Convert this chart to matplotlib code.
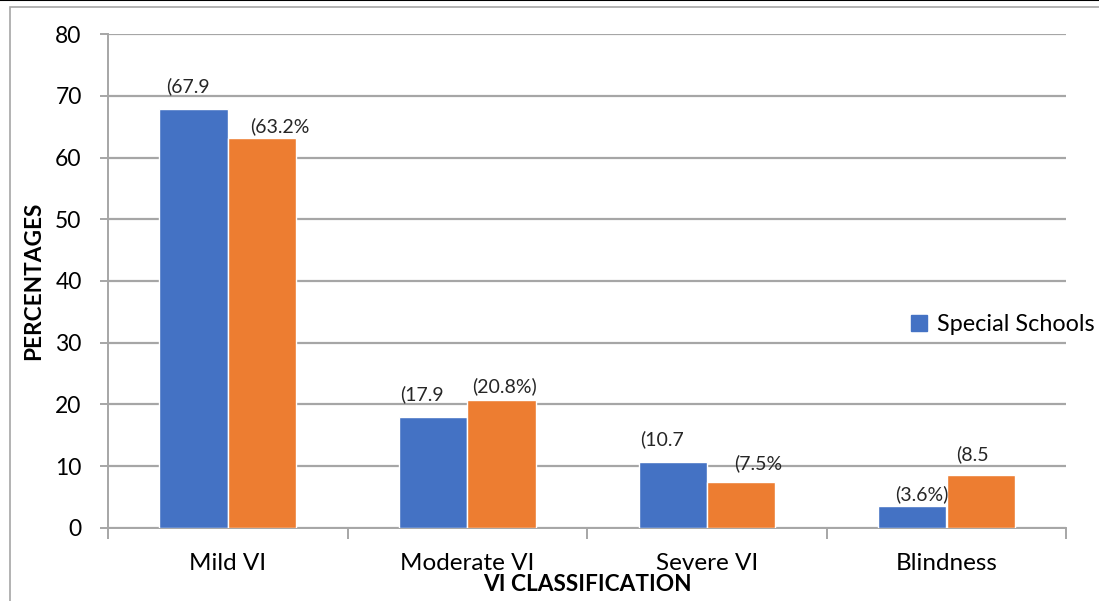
import numpy as np
import matplotlib.pyplot as plt
from matplotlib.patches import Patch, Rectangle
from matplotlib.lines import Line2D

plt.rcParams['font.family'] = ['Lato', 'DejaVu Sans']

### Data
categories = ['Mild VI', 'Moderate VI', 'Severe VI', 'Blindness']
special = [67.9, 17.9, 10.7, 3.6]
mainstream = [63.2, 20.8, 7.5, 8.5]
special_labels = ['(67.9', '(17.9', '(10.7', '(3.6%)']
mainstream_labels = ['(63.2%', '(20.8%)', '(7.5%', '(8.5']

### Label nudges in points (dx, dy) from the bar top
special_nudge = [(-4, 10), (-8, 10), (-8, 10), (7, 2)]
mainstream_nudge = [(13, 2), (2, 3), (12, 7), (-6, 9)]

blue = '#4472c4'
orange = '#ed7d31'
grid_col = '#a6a6a6'

fig = plt.figure(figsize=(10.99, 6.01), dpi=100)
ax = fig.add_axes([0.0983, 0.1215, 0.8719, 0.8219])

x = np.arange(len(categories))
w = 0.285
off = 0.143
b1 = ax.bar(x - off, special, w, color=blue, edgecolor='white', linewidth=1, zorder=3)
b2 = ax.bar(x + off, mainstream, w, color=orange, edgecolor='white', linewidth=1, zorder=3)

### Data labels
for bars, labs, nudge in ((b1, special_labels, special_nudge), (b2, mainstream_labels, mainstream_nudge)):
    for r, lab, (dx, dy) in zip(bars, labs, nudge):
        ax.annotate(lab, (r.get_x() + r.get_width() / 2, r.get_height()),
                    xytext=(dx, dy), textcoords='offset points',
                    ha='center', va='bottom', fontsize=14, color='#262626', zorder=4)

### Axes styling
ax.set_xlim(-0.5, len(categories) - 0.5)
ax.set_ylim(0, 80)
ax.set_yticks(np.arange(0, 81, 10))
ax.yaxis.grid(True, color=grid_col, linewidth=1.6, zorder=0)
ax.set_axisbelow(True)
for s in ('top', 'right'):
    ax.spines[s].set_visible(False)
for s in ('left', 'bottom'):
    ax.spines[s].set_color(grid_col)
    ax.spines[s].set_linewidth(1.4)

ax.set_xticks(x)
ax.set_xticklabels(categories)
ax.set_xticks(np.arange(-0.5, len(categories), 1), minor=True)
ax.tick_params(axis='x', which='major', length=0, labelsize=17.5, pad=18)
ax.tick_params(axis='x', which='minor', length=8, width=1.4, color=grid_col)
ax.tick_params(axis='y', length=6, width=1.4, color=grid_col, labelsize=16.5, pad=13)

ax.set_ylabel('PERCENTAGES', fontsize=16.3, fontweight='bold', labelpad=8)
ax.set_xlabel('VI CLASSIFICATION', fontsize=16.3, fontweight='bold', labelpad=0)

### Legend (only the first series entry)
ax.legend(handles=[Patch(color=blue)], labels=['Special Schools'],
          loc='center left', bbox_to_anchor=(0.838, 0.411), frameon=False,
          handlelength=0.7, handleheight=0.7, handletextpad=0.4,
          borderpad=0, borderaxespad=0, fontsize=16.8)

### Outer frame
fig.add_artist(Rectangle((10 / 1099, -0.05), 1.1, 1 - 7 / 601 + 0.05,
                         transform=fig.transFigure, fill=False,
                         edgecolor=grid_col, linewidth=1.2))
fig.add_artist(Line2D([0, 1], [0.9995, 0.9995], transform=fig.transFigure,
                      color='black', linewidth=1.5))

fig.savefig('out.png', dpi=100)
